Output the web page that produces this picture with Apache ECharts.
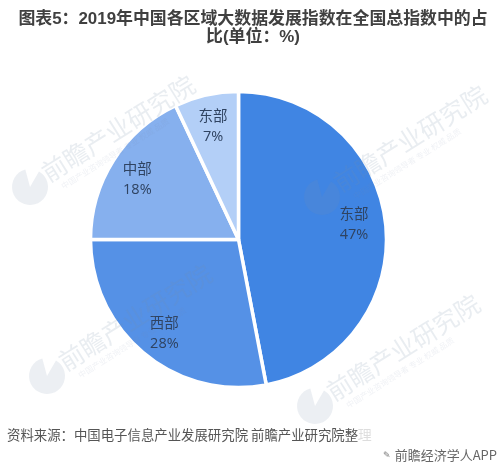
<!DOCTYPE html>
<html>
<head>
<meta charset="utf-8">
<style>
  html, body { margin: 0; padding: 0; background: #fff; }
  #main { width: 498px; height: 468px; }
</style>
</head>
<body>
<div id="main"></div>
<script src="https://cdn.jsdelivr.net/npm/echarts@6/dist/echarts.min.js"></script>
<script>
const regions = ['东部', '西部', '中部', '东部'];
const shares = [47, 28, 18, 7];
const sliceColors = ['#4085e3', '#5591e6', '#86b0ee', '#b3cff7'];

const titleText = '图表5：2019年中国各区域大数据发展指数在全国总指数中的占\n比(单位：%)';
const sourceText = '资料来源：中国电子信息产业发展研究院 前瞻产业研究院整理';
const brandText = '前瞻经济学人APP';
const markText = '前瞻产业研究院';
const markSubText = '中国产业咨询领导者 专业 权威 品质';
// where each watermark's text starts, the logo and small line hang off it
const markSpots = [[44, 175], [61, 364], [336, 185], [329, 394]];
// small nudges for the slice labels, same order as regions
const labelNudges = [[-5, -3], [3, 1], [1, 5], [1, 5]];

const sliceData = regions.map((name, i) => ({
    name: name,
    value: shares[i],
    itemStyle: { color: sliceColors[i] }
}));

const markGraphics = [];
markSpots.forEach(s => {
    markGraphics.push({
        type: 'sector', z: 20, silent: true,
        shape: { cx: s[0] - 14, cy: s[1] + 12, r: 18, r0: 0, startAngle: -1.05, endAngle: 4.45, clockwise: true },
        style: { fill: 'rgba(120,140,170,0.14)' }
    });
    markGraphics.push({
        type: 'text', z: 20, silent: true, x: s[0], y: s[1], rotation: 0.56,
        style: {
            text: markText, font: '25px "Noto Sans CJK SC"',
            fill: 'rgba(120,140,170,0.16)', verticalAlign: 'middle'
        }
    });
    markGraphics.push({
        type: 'text', z: 20, silent: true, x: s[0] + 18, y: s[1] + 12, rotation: 0.56,
        style: {
            text: markSubText, font: '8px "Noto Sans CJK SC"',
            fill: 'rgba(120,140,170,0.12)', verticalAlign: 'middle'
        }
    });
});

let chart = echarts.init(document.getElementById('main'));
chart.setOption({
    animation: false,
    title: {
        text: titleText,
        left: 248,
        top: 6,
        textAlign: 'center',
        textStyle: {
            fontFamily: '"Liberation Sans", "Noto Sans CJK SC"',
            fontSize: 16.9,
            fontWeight: 'bold',
            color: '#404040',
            lineHeight: 17.5
        }
    },
    series: [
        {
            type: 'pie',
            center: [238.5, 239.5],
            radius: [0, 148],
            startAngle: 90,
            clockwise: true,
            silent: true,
            label: { show: false },
            itemStyle: { borderColor: '#fff', borderWidth: 3.5 },
            data: sliceData
        },
        {
            // ring with no fill, only there to push the labels out to the reference radius
            type: 'pie',
            center: [238.5, 239.5],
            radius: [89, 147],
            startAngle: 90,
            clockwise: true,
            silent: true,
            itemStyle: { color: 'transparent' },
            label: {
                show: true,
                position: 'inside',
                formatter: '{b}\n{c}%',
                fontFamily: '"Open Sans", "Noto Sans CJK SC"',
                fontSize: 14.5,
                lineHeight: 20,
                color: '#2f4361'
            },
            labelLayout: params => ({
                dx: labelNudges[params.dataIndex][0],
                dy: labelNudges[params.dataIndex][1]
            }),
            data: regions.map((name, i) => ({ name: name, value: shares[i] }))
        }
    ],
    graphic: markGraphics.concat([
        {
            type: 'text', x: 7, y: 435, z: 30,
            style: {
                text: sourceText, font: '13.4px "Noto Sans CJK SC"',
                fill: '#555', verticalAlign: 'middle'
            }
        },
        {
            // the last character is nearly lost in the reference
            type: 'rect', z: 31, silent: true,
            shape: { x: 359, y: 427, width: 14, height: 16 },
            style: { fill: 'rgba(255,255,255,0.8)' }
        },
        {
            type: 'text', x: 383, y: 456, z: 30,
            style: {
                text: '✎', font: '9px "DejaVu Sans"',
                fill: '#777', verticalAlign: 'middle'
            }
        },
        {
            type: 'text', x: 497, y: 455, z: 30,
            style: {
                text: brandText, font: '13px "Noto Sans CJK SC"',
                fill: '#666', align: 'right', verticalAlign: 'middle'
            }
        }
    ])
});
</script>
</body>
</html>
